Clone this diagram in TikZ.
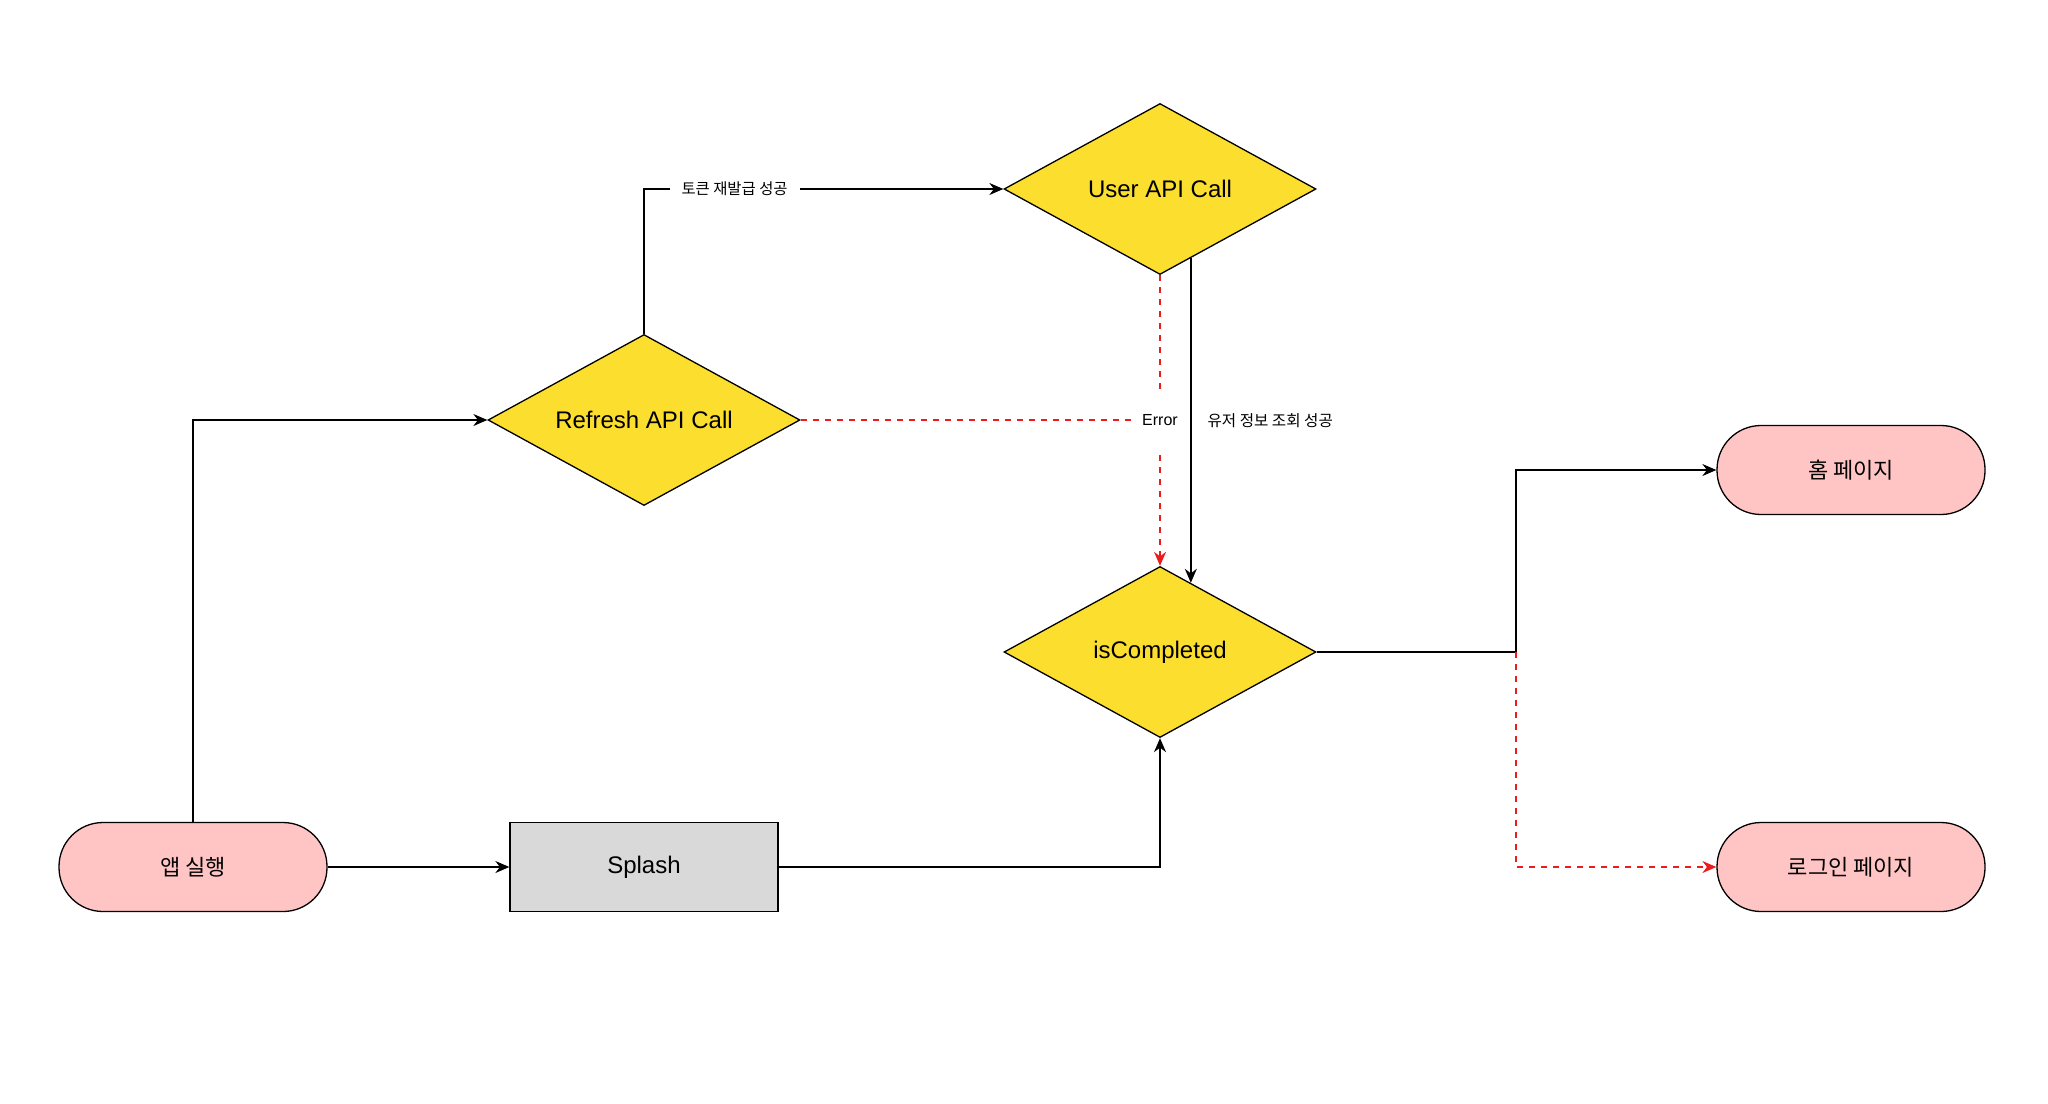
\documentclass[tikz,border=0pt]{standalone}
\usepackage{fontspec}
\setmainfont{Liberation Sans}
\newfontfamily\kr{Noto Sans CJK KR}
\usepackage{xcolor}
\usepackage{tikz}
\usetikzlibrary{shapes.geometric,arrows.meta}

\definecolor{decisionyellow}{RGB}{252,222,46}
\definecolor{pillpink}{RGB}{255,196,196}
\definecolor{splashgray}{RGB}{217,217,217}
\definecolor{errred}{RGB}{236,28,28}

\begin{document}
\begin{tikzpicture}[x=0.5pt,y=-0.5pt,
      decision/.style={diamond,aspect=1.83,draw=black,line width=0.65pt,
        fill=decisionyellow,minimum width=156pt,minimum height=85.5pt,
        inner sep=0pt,font=\fontsize{12}{14}\selectfont},
      pill/.style={rectangle,rounded corners=22pt,draw=black,line width=0.65pt,
        fill=pillpink,minimum width=134pt,minimum height=44.5pt,
        font=\kr\fontsize{11}{13}\selectfont},
      process/.style={rectangle,draw=black,line width=0.65pt,fill=splashgray,
        minimum width=134pt,minimum height=44.5pt,font=\fontsize{12}{14}\selectfont},
      arr/.style={line width=0.65pt,-{Stealth[length=7pt,width=6pt]}},
      errline/.style={arr,draw=errred,dash pattern=on 3pt off 3pt},
      edgelbl/.style={fill=white,font=\kr\fontsize{7.7}{9}\selectfont,
        inner xsep=6pt,inner ysep=2pt},
      errlbl/.style={fill=white,font=\fontsize{8}{10}\selectfont,
        inner xsep=3.5pt,inner ysep=12pt},
      sidelbl/.style={font=\kr\fontsize{7.8}{9}\selectfont,inner sep=2pt}]
      \useasboundingbox (0,0) rectangle (2048,1103);
      \node[pill] (app) at (193,867) {앱 실행};
      \node[process] (splash) at (644,867) {Splash};
      \node[decision] (refresh) at (644,420) {Refresh API Call};
      \node[decision] (user) at (1160,189) {User API Call};
      \node[decision] (isc) at (1160,652) {isCompleted};
      \node[pill] (home) at (1851,470) {홈 페이지};
      \node[pill] (login) at (1851,867) {로그인 페이지};
      \coordinate (split) at (1516,652);
      \coordinate (errjoin) at (1160,420);
      \draw[arr] (app.north) |- (refresh.west);
      \draw[arr] (app.east) -- (splash.west);
      \draw[arr] (splash.east) -| (isc.south);
      \draw[arr] (refresh.north) |- node[edgelbl,pos=0.626] {토큰 재발급 성공}
        (user.west);
      \draw[errline,-] (refresh.east) -- (errjoin);
      \draw[errline] (user.south) -- node[errlbl] {Error} (isc.north);
      \draw[arr,line width=0.75pt] (user.-66.8) -- node[sidelbl,right=6pt] {유저 정보 조회 성공}
        (isc.66.8);
      \draw[arr] (isc.east) -- (split) |- (home.west);
      \draw[errline] (split) |- (login.west);
    \end{tikzpicture}
\end{document}
